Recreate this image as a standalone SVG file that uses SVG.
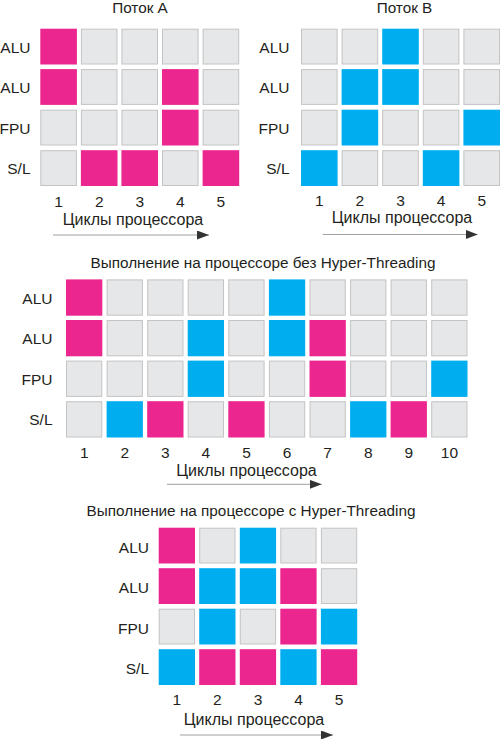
<svg xmlns="http://www.w3.org/2000/svg" width="500" height="739" viewBox="0 0 500 739">
<defs>
<style>
text{font-family:"Liberation Sans",Arial,sans-serif;font-size:15.5px;fill:#231f20}
.lbl{text-anchor:end}
.num,.cap{text-anchor:middle}
.cyc{font-size:16px}
.ttl{font-size:15.3px}
.g{fill:#e6e7e8;stroke:#c4c4c4;stroke-width:1}
.m{fill:#ec268f}
.c{fill:#00aeef}
.ax{stroke:#a0a0a0;stroke-width:1;fill:none;marker-end:url(#ah)}
</style>
<marker id="ah" markerUnits="userSpaceOnUse" markerWidth="12" markerHeight="9" refX="12" refY="4.5" orient="auto">
<path d="M0,0 L12,4.5 L0,9 Z" fill="#333"/>
</marker>
</defs>
<rect width="500" height="739" fill="#fff"/>

<g id="threadA">
<text x="140" y="13" class="cap ttl">Поток A</text>
<text x="30.5" y="52.5" class="lbl">ALU</text>
<text x="30.5" y="93" class="lbl">ALU</text>
<text x="30.5" y="133.5" class="lbl">FPU</text>
<text x="30.5" y="174" class="lbl">S/L</text>
<rect class="m" x="40.3" y="28.7" width="36.6" height="35.8"/>
<rect class="g" x="81.4" y="29.2" width="35.6" height="34.8"/>
<rect class="g" x="121.9" y="29.2" width="35.6" height="34.8"/>
<rect class="g" x="162.5" y="29.2" width="35.6" height="34.8"/>
<rect class="g" x="203.1" y="29.2" width="35.6" height="34.8"/>
<rect class="m" x="40.3" y="69.1" width="36.6" height="35.8"/>
<rect class="g" x="81.4" y="69.6" width="35.6" height="34.8"/>
<rect class="g" x="121.9" y="69.6" width="35.6" height="34.8"/>
<rect class="m" x="162" y="69.1" width="36.6" height="35.8"/>
<rect class="g" x="203.1" y="69.6" width="35.6" height="34.8"/>
<rect class="g" x="40.8" y="110.2" width="35.6" height="34.8"/>
<rect class="g" x="81.4" y="110.2" width="35.6" height="34.8"/>
<rect class="g" x="121.9" y="110.2" width="35.6" height="34.8"/>
<rect class="m" x="162" y="109.7" width="36.6" height="35.8"/>
<rect class="g" x="203.1" y="110.2" width="35.6" height="34.8"/>
<rect class="g" x="40.8" y="150.7" width="35.6" height="34.8"/>
<rect class="m" x="80.9" y="150.2" width="36.6" height="35.8"/>
<rect class="m" x="121.4" y="150.2" width="36.6" height="35.8"/>
<rect class="g" x="162.5" y="150.7" width="35.6" height="34.8"/>
<rect class="m" x="202.6" y="150.2" width="36.6" height="35.8"/>
<text x="58.6" y="207" class="num">1</text>
<text x="99.2" y="207" class="num">2</text>
<text x="139.7" y="207" class="num">3</text>
<text x="180.3" y="207" class="num">4</text>
<text x="220.9" y="207" class="num">5</text>
<text x="133" y="224.5" class="cap cyc">Циклы процессора</text>
</g>

<g id="threadB">
<text x="404.5" y="13" class="cap ttl">Поток B</text>
<text x="289.5" y="52.5" class="lbl">ALU</text>
<text x="289.5" y="93" class="lbl">ALU</text>
<text x="289.5" y="133.5" class="lbl">FPU</text>
<text x="289.5" y="174" class="lbl">S/L</text>
<rect class="g" x="301.5" y="29.2" width="35.6" height="34.8"/>
<rect class="g" x="342.1" y="29.2" width="35.6" height="34.8"/>
<rect class="c" x="382.2" y="28.7" width="36.6" height="35.8"/>
<rect class="g" x="423.3" y="29.2" width="35.6" height="34.8"/>
<rect class="g" x="463.9" y="29.2" width="35.6" height="34.8"/>
<rect class="g" x="301.5" y="69.6" width="35.6" height="34.8"/>
<rect class="c" x="341.6" y="69.1" width="36.6" height="35.8"/>
<rect class="c" x="382.2" y="69.1" width="36.6" height="35.8"/>
<rect class="g" x="423.3" y="69.6" width="35.6" height="34.8"/>
<rect class="g" x="463.9" y="69.6" width="35.6" height="34.8"/>
<rect class="g" x="301.5" y="110.2" width="35.6" height="34.8"/>
<rect class="c" x="341.6" y="109.7" width="36.6" height="35.8"/>
<rect class="g" x="382.7" y="110.2" width="35.6" height="34.8"/>
<rect class="g" x="423.3" y="110.2" width="35.6" height="34.8"/>
<rect class="c" x="463.4" y="109.7" width="36.6" height="35.8"/>
<rect class="c" x="301" y="150.2" width="36.6" height="35.8"/>
<rect class="g" x="342.1" y="150.7" width="35.6" height="34.8"/>
<rect class="g" x="382.7" y="150.7" width="35.6" height="34.8"/>
<rect class="c" x="422.8" y="150.2" width="36.6" height="35.8"/>
<rect class="g" x="463.9" y="150.7" width="35.6" height="34.8"/>
<text x="319.3" y="206" class="num">1</text>
<text x="359.9" y="206" class="num">2</text>
<text x="400.5" y="206" class="num">3</text>
<text x="441.1" y="206" class="num">4</text>
<text x="481.7" y="206" class="num">5</text>
<text x="402" y="222.5" class="cap cyc">Циклы процессора</text>
</g>

<g id="noHT">
<text x="263" y="268" class="cap ttl">Выполнение на процессоре без Hyper-Threading</text>
<text x="52.5" y="303.5" class="lbl">ALU</text>
<text x="52.5" y="344" class="lbl">ALU</text>
<text x="52.5" y="384.6" class="lbl">FPU</text>
<text x="52.5" y="425.2" class="lbl">S/L</text>
<rect class="m" x="66" y="279.4" width="36.3" height="36.3"/>
<rect class="g" x="107.1" y="279.9" width="35.3" height="35.3"/>
<rect class="g" x="147.7" y="279.9" width="35.3" height="35.3"/>
<rect class="g" x="188.2" y="279.9" width="35.3" height="35.3"/>
<rect class="g" x="228.8" y="279.9" width="35.3" height="35.3"/>
<rect class="c" x="268.9" y="279.4" width="36.3" height="36.3"/>
<rect class="g" x="310" y="279.9" width="35.3" height="35.3"/>
<rect class="g" x="350.6" y="279.9" width="35.3" height="35.3"/>
<rect class="g" x="391.1" y="279.9" width="35.3" height="35.3"/>
<rect class="g" x="431.7" y="279.9" width="35.3" height="35.3"/>
<rect class="m" x="66" y="320" width="36.3" height="36.3"/>
<rect class="g" x="107.1" y="320.5" width="35.3" height="35.3"/>
<rect class="g" x="147.7" y="320.5" width="35.3" height="35.3"/>
<rect class="c" x="187.7" y="320" width="36.3" height="36.3"/>
<rect class="g" x="228.8" y="320.5" width="35.3" height="35.3"/>
<rect class="c" x="268.9" y="320" width="36.3" height="36.3"/>
<rect class="m" x="309.5" y="320" width="36.3" height="36.3"/>
<rect class="g" x="350.6" y="320.5" width="35.3" height="35.3"/>
<rect class="g" x="391.1" y="320.5" width="35.3" height="35.3"/>
<rect class="g" x="431.7" y="320.5" width="35.3" height="35.3"/>
<rect class="g" x="66.5" y="361.1" width="35.3" height="35.3"/>
<rect class="g" x="107.1" y="361.1" width="35.3" height="35.3"/>
<rect class="g" x="147.7" y="361.1" width="35.3" height="35.3"/>
<rect class="c" x="187.7" y="360.6" width="36.3" height="36.3"/>
<rect class="g" x="228.8" y="361.1" width="35.3" height="35.3"/>
<rect class="g" x="269.4" y="361.1" width="35.3" height="35.3"/>
<rect class="m" x="309.5" y="360.6" width="36.3" height="36.3"/>
<rect class="g" x="350.6" y="361.1" width="35.3" height="35.3"/>
<rect class="g" x="391.1" y="361.1" width="35.3" height="35.3"/>
<rect class="c" x="431.2" y="360.6" width="36.3" height="36.3"/>
<rect class="g" x="66.5" y="401.7" width="35.3" height="35.3"/>
<rect class="c" x="106.6" y="401.2" width="36.3" height="36.3"/>
<rect class="m" x="147.2" y="401.2" width="36.3" height="36.3"/>
<rect class="g" x="188.2" y="401.7" width="35.3" height="35.3"/>
<rect class="m" x="228.3" y="401.2" width="36.3" height="36.3"/>
<rect class="g" x="269.4" y="401.7" width="35.3" height="35.3"/>
<rect class="g" x="310" y="401.7" width="35.3" height="35.3"/>
<rect class="c" x="350.1" y="401.2" width="36.3" height="36.3"/>
<rect class="m" x="390.6" y="401.2" width="36.3" height="36.3"/>
<rect class="g" x="431.7" y="401.7" width="35.3" height="35.3"/>
<text x="84.2" y="458" class="num">1</text>
<text x="124.7" y="458" class="num">2</text>
<text x="165.3" y="458" class="num">3</text>
<text x="205.9" y="458" class="num">4</text>
<text x="246.5" y="458" class="num">5</text>
<text x="287.1" y="458" class="num">6</text>
<text x="327.6" y="458" class="num">7</text>
<text x="368.2" y="458" class="num">8</text>
<text x="408.8" y="458" class="num">9</text>
<text x="449.4" y="458" class="num">10</text>
<text x="246.5" y="476" class="cap cyc">Циклы процессора</text>
</g>

<g id="withHT">
<text x="251" y="516" class="cap ttl">Выполнение на процессоре с Hyper-Threading</text>
<text x="149" y="552.5" class="lbl">ALU</text>
<text x="149" y="593" class="lbl">ALU</text>
<text x="149" y="633.5" class="lbl">FPU</text>
<text x="149" y="674" class="lbl">S/L</text>
<rect class="m" x="158.7" y="527.7" width="36.3" height="35.8"/>
<rect class="g" x="199.7" y="528.2" width="35.3" height="34.8"/>
<rect class="c" x="239.8" y="527.7" width="36.3" height="35.8"/>
<rect class="g" x="280.8" y="528.2" width="35.3" height="34.8"/>
<rect class="g" x="321.4" y="528.2" width="35.3" height="34.8"/>
<rect class="m" x="158.7" y="568.2" width="36.3" height="35.8"/>
<rect class="c" x="199.2" y="568.2" width="36.3" height="35.8"/>
<rect class="c" x="239.8" y="568.2" width="36.3" height="35.8"/>
<rect class="m" x="280.3" y="568.2" width="36.3" height="35.8"/>
<rect class="g" x="321.4" y="568.7" width="35.3" height="34.8"/>
<rect class="g" x="159.2" y="609.2" width="35.3" height="34.8"/>
<rect class="c" x="199.2" y="608.7" width="36.3" height="35.8"/>
<rect class="g" x="240.3" y="609.2" width="35.3" height="34.8"/>
<rect class="m" x="280.3" y="608.7" width="36.3" height="35.8"/>
<rect class="c" x="320.9" y="608.7" width="36.3" height="35.8"/>
<rect class="c" x="158.7" y="649.2" width="36.3" height="35.8"/>
<rect class="m" x="199.2" y="649.2" width="36.3" height="35.8"/>
<rect class="m" x="239.8" y="649.2" width="36.3" height="35.8"/>
<rect class="c" x="280.3" y="649.2" width="36.3" height="35.8"/>
<rect class="m" x="320.9" y="649.2" width="36.3" height="35.8"/>
<text x="176.9" y="705" class="num">1</text>
<text x="217.4" y="705" class="num">2</text>
<text x="258" y="705" class="num">3</text>
<text x="298.5" y="705" class="num">4</text>
<text x="339.1" y="705" class="num">5</text>
<text x="254" y="725" class="cap cyc">Циклы процессора</text>
</g>

<g id="connectors">
<line class="ax" x1="53" y1="235" x2="209" y2="235"/>
<line class="ax" x1="322.7" y1="234.5" x2="477.7" y2="234.5"/>
<line class="ax" x1="167" y1="484.3" x2="321.7" y2="484.3"/>
<line class="ax" x1="180" y1="735" x2="333" y2="735"/>
</g>
</svg>
